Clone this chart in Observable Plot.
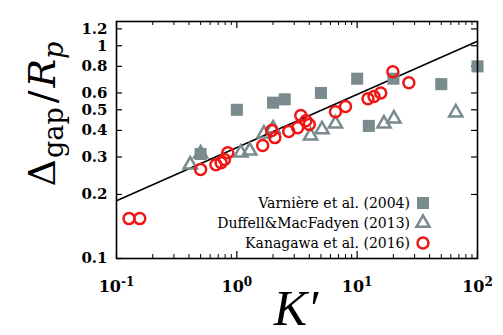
<!DOCTYPE html>
<html>
<head>
<meta charset="utf-8">
<script src="https://cdn.jsdelivr.net/npm/d3@7"></script>
<script src="https://cdn.jsdelivr.net/npm/@observablehq/plot@0.6"></script>
<style>
  html, body { margin: 0; padding: 0; background: white; }
  svg { display: block; }
</style>
</head>
<body>
<div id="chart"></div>
<script>
// ---- data ----
const varnK = [0.5, 1, 2, 2.5, 5, 10, 12.5, 20, 50, 100];
const varnY = [0.31, 0.50, 0.54, 0.56, 0.60, 0.70, 0.42, 0.70, 0.66, 0.80];

const duffK = [0.41, 0.50, 1.08, 1.28, 1.68, 2.0, 4.1, 5.1, 6.6, 16.7, 20.2, 66];
const duffY = [0.276, 0.311, 0.314, 0.321, 0.386, 0.408, 0.378, 0.404, 0.43, 0.43, 0.454, 0.485];

const kanaK = [0.127, 0.156, 0.50, 0.67, 0.74, 0.79, 0.84, 1.64, 1.95, 2.07, 2.7, 3.2, 3.4, 3.75, 4.0, 6.6, 8.0, 12.3, 13.8, 15.7, 19.8, 26.9];
const kanaY = [0.154, 0.154, 0.262, 0.276, 0.282, 0.292, 0.314, 0.34, 0.40, 0.37, 0.395, 0.412, 0.47, 0.444, 0.426, 0.49, 0.518, 0.564, 0.577, 0.60, 0.755, 0.67];

// fitted line endpoints
const lineK = [0.1, 100];
const lineY = [0.187, 1.05];

const seriesNames = ["Varnière et al. (2004)", "Duffell&MacFadyen (2013)", "Kanagawa et al. (2016)"];

// axes
const xTicks = [0.1, 1, 10, 100];
const xTickBase = ["10", "10", "10", "10"];
const xTickExp = ["-1", "0", "1", "2"];
const xMinorMult = [2, 3, 4, 5, 6, 7, 8, 9];
const yTicks = [0.1, 0.2, 0.3, 0.4, 0.5, 0.6, 0.8, 1, 1.2];
const yTickLabels = ["0.1", "0.2", "0.3", "0.4", "0.5", "0.6", "0.8", "1", "1.2"];

// ---- build ----
const W = 503, H = 335, mL = 116, mR = 26, mT = 21, mB = 77;
const frameW = W - mL - mR, frameH = H - mT - mB;
const grey = "#7a8b8e", red = "#f01616";

const zip = (xs, ys) => xs.map((x, i) => ({x, y: ys[i]}));
const varn = zip(varnK, varnY), duff = zip(duffK, duffY), kana = zip(kanaK, kanaY), fit = zip(lineK, lineY);
const xMinor = xTicks.slice(0, -1).flatMap(d => xMinorMult.map(m => d * m));

const plot = Plot.plot({
  width: W, height: H,
  marginLeft: mL, marginRight: mR, marginTop: mT, marginBottom: mB,
  x: {type: "log", domain: [0.1, 100]},
  y: {type: "log", domain: [0.1, 1.3]},
  style: {fontFamily: "DejaVu Serif", background: "white", color: "black"},
  marks: [
    Plot.ruleX(xTicks, {x: d => d, insetTop: frameH - 7, stroke: "black", strokeWidth: 1.2}),
    Plot.ruleX(xTicks, {x: d => d, insetBottom: frameH - 7, stroke: "black", strokeWidth: 1.2}),
    Plot.ruleX(xMinor, {x: d => d, insetTop: frameH - 4, stroke: "black", strokeWidth: 1}),
    Plot.ruleX(xMinor, {x: d => d, insetBottom: frameH - 4, stroke: "black", strokeWidth: 1}),
    Plot.ruleY(yTicks, {y: d => d, insetRight: frameW - 6, stroke: "black", strokeWidth: 1.2}),
    Plot.ruleY(yTicks, {y: d => d, insetLeft: frameW - 6, stroke: "black", strokeWidth: 1.2}),
    Plot.line(fit, {x: "x", y: "y", stroke: "black", strokeWidth: 1.6}),
    Plot.dot(varn, {x: "x", y: "y", symbol: "square", fill: grey, r: 6.8}),
    Plot.dot(duff, {x: "x", y: "y", symbol: "triangle", stroke: grey, fill: "none", strokeWidth: 2.5, r: 4.9}),
    Plot.dot(kana, {x: "x", y: "y", symbol: "circle", stroke: red, fill: "none", strokeWidth: 2.5, r: 5.5}),
    Plot.frame({stroke: "black", strokeWidth: 1.6}),
    Plot.axisX({ticks: xTicks, tickSize: 0, tickPadding: 22, label: null,
      tickFormat: d => { const i = xTicks.indexOf(d); return xTickBase[i] + "^" + xTickExp[i]; },
      fontSize: 16, fontWeight: "bold"}),
    Plot.axisY({ticks: yTicks, tickSize: 0, tickPadding: 9, label: null,
      tickFormat: d => yTickLabels[yTicks.indexOf(d)],
      fontSize: 15, fontWeight: "bold"})
  ]
});

const svg = d3.select(plot);

// superscripts on x tick labels
svg.selectAll('g[aria-label="x-axis tick label"] text').each(function() {
  const t = d3.select(this);
  const s = t.text();
  const [b, e] = s.split("^");
  t.text(null);
  t.append("tspan").text(b);
  t.append("tspan").attr("dy", "-0.5em").attr("font-size", 12).text(e);
});

// legend
const legendX = 423, legendRows = [203, 223, 243];
const lg = svg.append("g").attr("font-family", "DejaVu Serif").attr("font-size", 14);
seriesNames.forEach((name, i) => {
  lg.append("text").attr("x", legendX - 13).attr("y", legendRows[i]).attr("dy", "0.35em")
    .attr("text-anchor", "end").attr("fill", "black").text(name);
});
const sym = (type, size) => d3.symbol().type(type).size(size)();
lg.append("path").attr("transform", `translate(${legendX},${legendRows[0]})`)
  .attr("d", sym(d3.symbolSquare, Math.PI * 6.8 * 6.8)).attr("fill", grey);
lg.append("path").attr("transform", `translate(${legendX},${legendRows[1]})`)
  .attr("d", sym(d3.symbolTriangle, Math.PI * 4.9 * 4.9)).attr("fill", "none").attr("stroke", grey).attr("stroke-width", 2.5);
lg.append("circle").attr("cx", legendX).attr("cy", legendRows[2]).attr("r", 5.5)
  .attr("fill", "none").attr("stroke", red).attr("stroke-width", 2.5);

// y axis title: Δ_gap / R_p
const yl = svg.append("text")
  .attr("transform", "translate(55,114) rotate(-90)")
  .attr("text-anchor", "middle")
  .attr("font-family", "DejaVu Serif")
  .attr("font-size", 38)
  .attr("fill", "black");
yl.append("tspan").text("Δ");
yl.append("tspan").attr("font-size", 27).attr("dy", 8).attr("dx", 1).text("gap");
yl.append("tspan").attr("dy", -8).attr("dx", 4).text("/");
yl.append("tspan").attr("font-style", "italic").attr("dx", 3).text("R");
yl.append("tspan").attr("font-style", "italic").attr("font-size", 27).attr("dy", 8).text("p");

// x axis title: K′
svg.append("text")
  .attr("x", 296).attr("y", 325)
  .attr("text-anchor", "middle")
  .attr("font-family", "Liberation Serif")
  .attr("font-style", "italic")
  .attr("font-size", 50)
  .attr("fill", "black")
  .text("K′");

document.getElementById("chart").appendChild(plot);
</script>
</body>
</html>
